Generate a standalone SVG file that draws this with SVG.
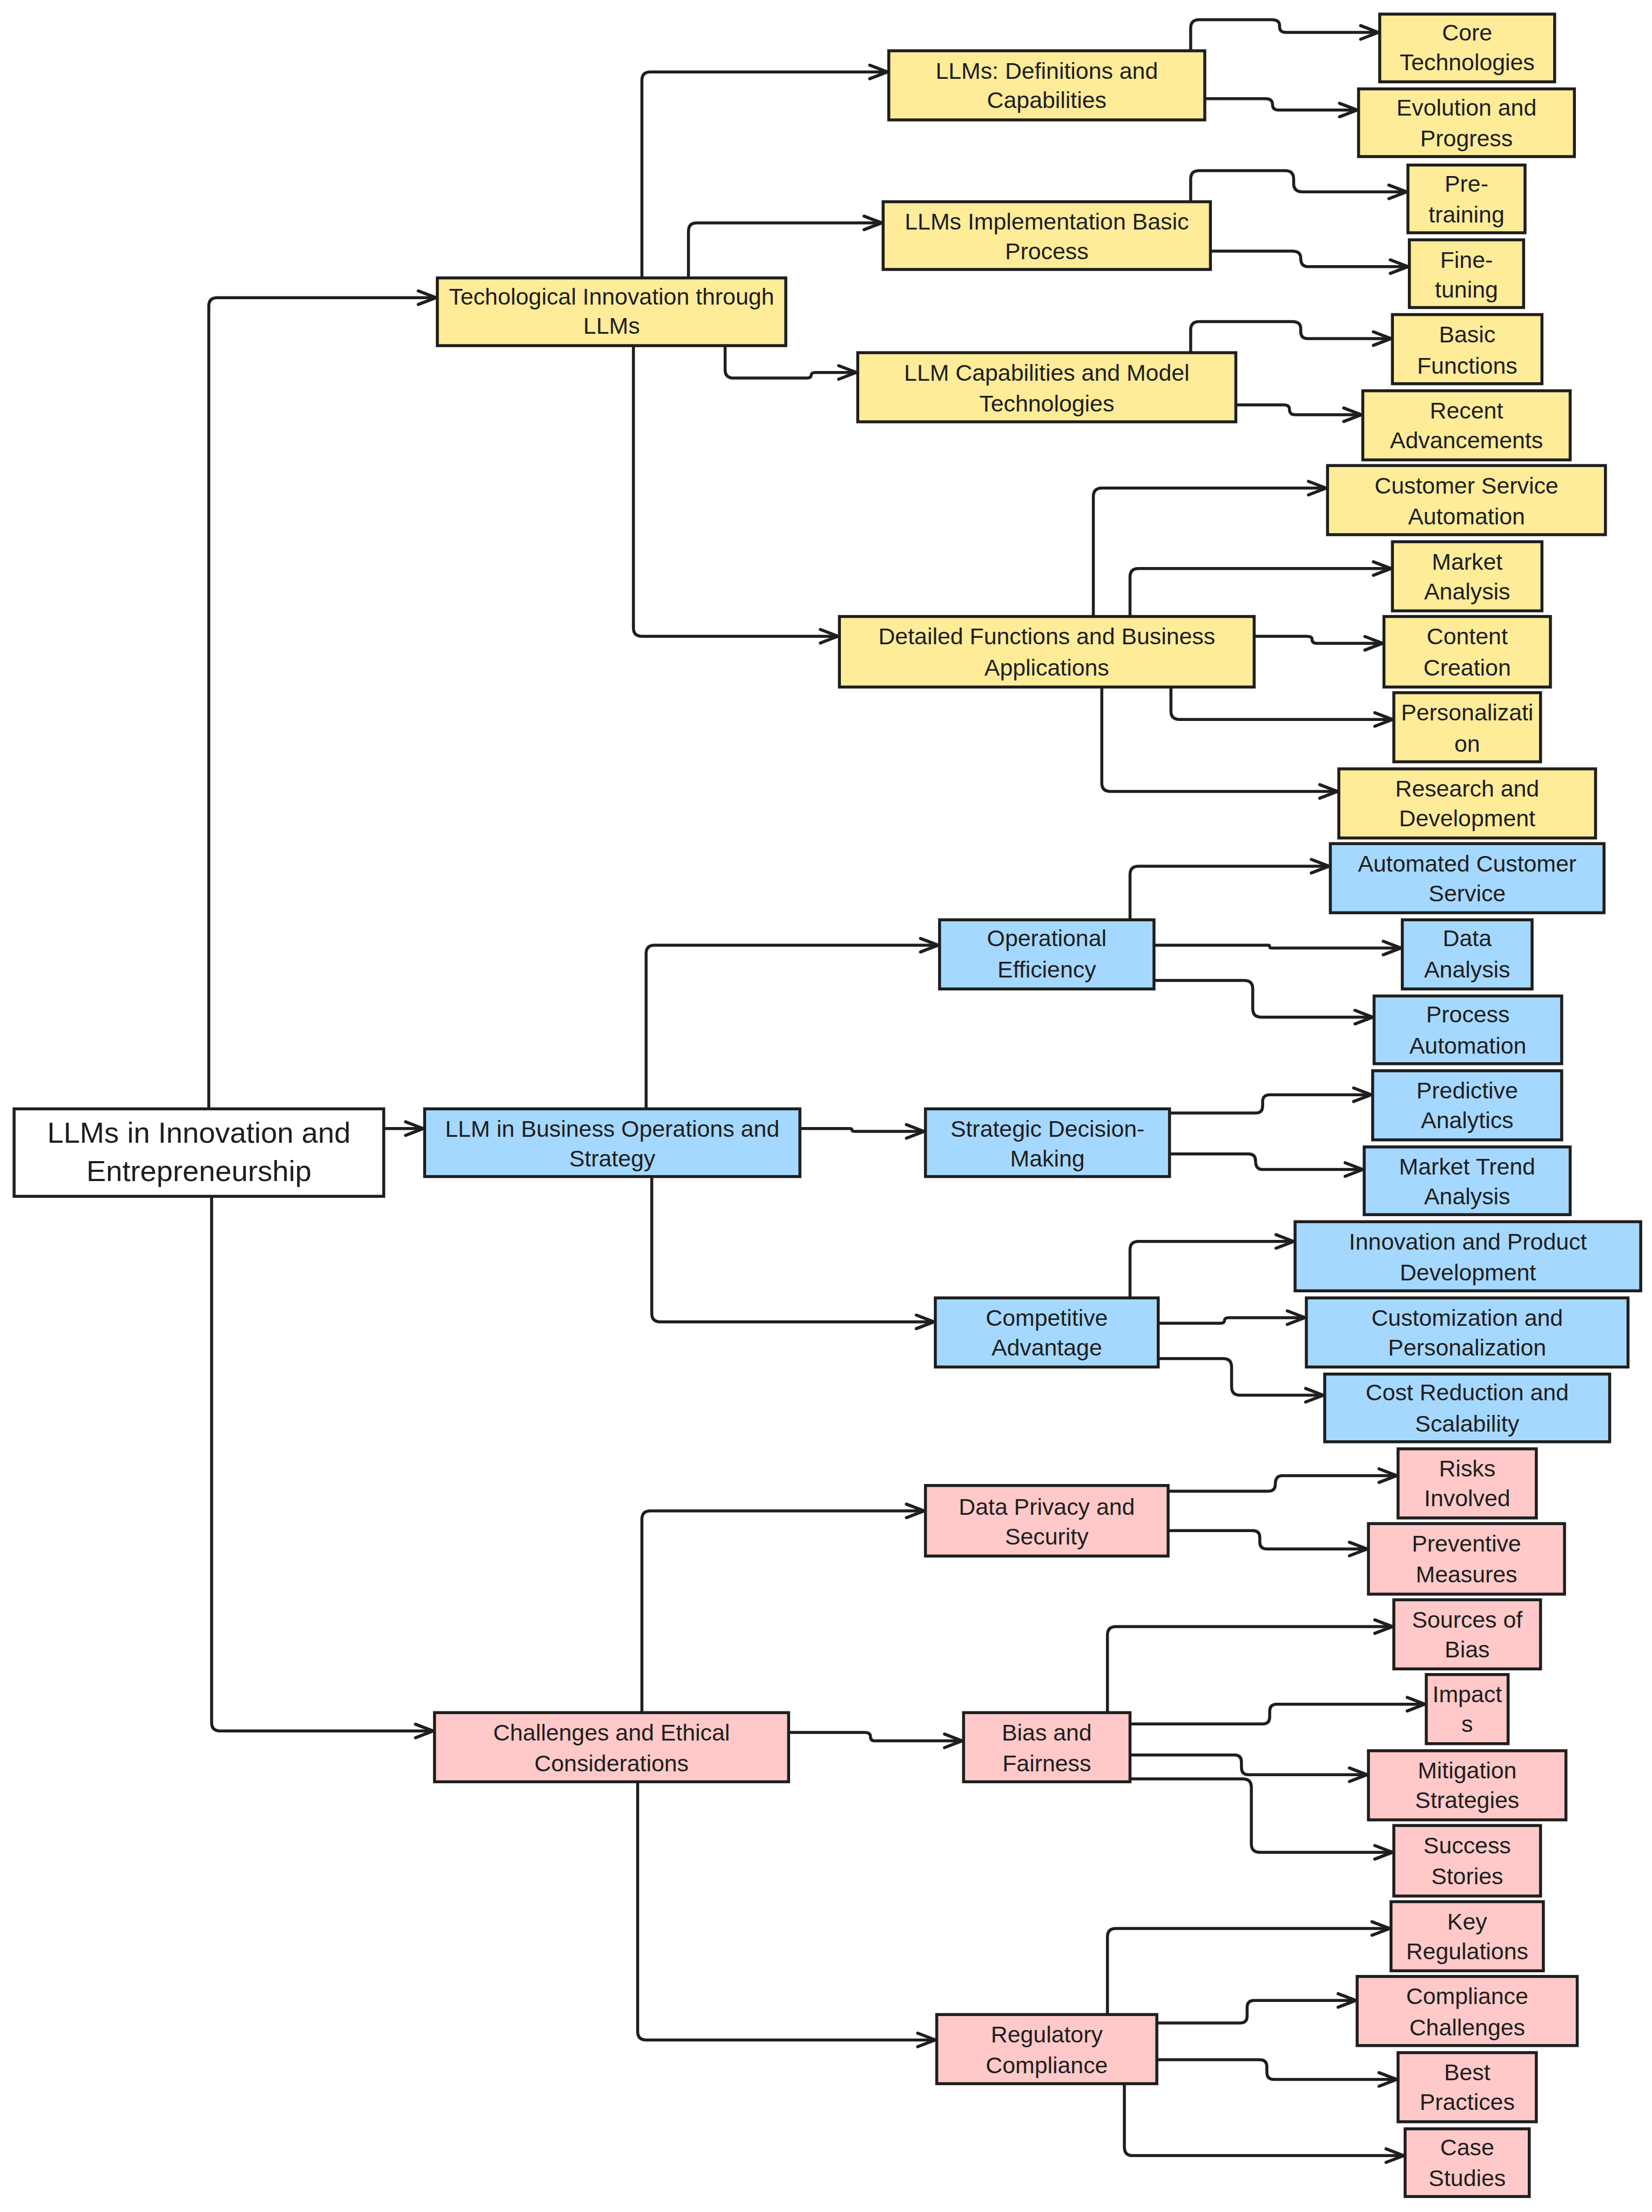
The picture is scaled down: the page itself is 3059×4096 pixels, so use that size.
<svg xmlns="http://www.w3.org/2000/svg" width="3059" height="4096" viewBox="0 0 3059 4096">
<defs>
<style>
.n rect{stroke:#1e1e1e;stroke-width:2.1}
.y rect{fill:#ffec99}
.b rect{fill:#a5d8ff}
.p rect{fill:#ffc9c9}
.r rect{fill:#ffffff;stroke-width:2.1}
text{font-family:"Liberation Sans",Arial,sans-serif;font-size:16.4px;fill:#1e1e1e;text-anchor:middle;dominant-baseline:central}
.r text{font-size:20.8px}
#edges path{fill:none;stroke:#1e1e1e;stroke-width:2.1;stroke-linecap:round;stroke-linejoin:round;marker-end:url(#ah)}
</style>
<marker id="ah" viewBox="0 0 16 12" refX="14.5" refY="6" markerWidth="16" markerHeight="12" markerUnits="userSpaceOnUse" orient="auto">
<path d="M2,1.2 L14.5,6 L2,10.8" fill="none" stroke="#1e1e1e" stroke-width="2.2" stroke-linecap="round" stroke-linejoin="round"/>
</marker>
</defs>
<rect width="3059" height="4096" fill="#ffffff"/>
<g transform="scale(2.6123)">
<g id="edges">
<path d="M148 785 L148 217 Q148 211 154 211 L309 211"/>
<path d="M273 800 L300 800"/>
<path d="M150 849 L150 1221 Q150 1227 156 1227 L307 1227"/>
<path d="M455 196 L455 57 Q455 51 461 51 L629 51"/>
<path d="M488 196 L488 164 Q488 158 494 158 L625 158"/>
<path d="M514 246 L514 262 Q514 268 520 268 L572 268 Q575 268 575 266 Q575 264 578 264 L607 264"/>
<path d="M449 246 L449 445 Q449 451 455 451 L594 451"/>
<path d="M844 35 L844 20 Q844 14 850 14 L901 14 Q907 14 907 18 L907 19 Q907 23 912 23 L977 23"/>
<path d="M855 70 L897 70 Q902 70 902 74 Q902 78 906 78 L962 78"/>
<path d="M844 142 L844 127 Q844 121 850 121 L911 121 Q917 121 917 127 L917 130 Q917 136 923 136 L997 136"/>
<path d="M859 178 L916 178 Q922 178 922 183 Q922 189 927 189 L998 189"/>
<path d="M844 249 L844 234 Q844 228 850 228 L916 228 Q922 228 922 233 L922 235 Q922 240 927 240 L986 240"/>
<path d="M877 287 L910 287 Q914 287 914 290 Q914 294 918 294 L965 294"/>
<path d="M775 436 L775 352 Q775 346 781 346 L940 346"/>
<path d="M801 436 L801 409 Q801 403 807 403 L986 403"/>
<path d="M890 451 L926 451 Q930 451 930 453 Q930 456 933 456 L980 456"/>
<path d="M830 488 L830 504 Q830 510 836 510 L987 510"/>
<path d="M781 488 L781 555 Q781 561 787 561 L948 561"/>
<path d="M458 785 L458 676 Q458 670 464 670 L665 670"/>
<path d="M568 800 L602 800 Q604 800 604 801 Q604 802 606 802 L655 802"/>
<path d="M462 835 L462 931 Q462 937 468 937 L662 937"/>
<path d="M801 651 L801 620 Q801 614 807 614 L942 614"/>
<path d="M819 670 L899 670 Q900 670 900 671 Q900 672 901 672 L993 672"/>
<path d="M819 695 L882 695 Q888 695 888 701 L888 715 Q888 721 894 721 L973 721"/>
<path d="M830 789 L890 789 Q895 789 895 784 L895 781 Q895 776 900 776 L972 776"/>
<path d="M830 818 L885 818 Q890 818 890 823 Q890 829 895 829 L966 829"/>
<path d="M801 919 L801 886 Q801 880 807 880 L917 880"/>
<path d="M822 938 L865 938 Q868 938 868 936 Q868 934 871 934 L925 934"/>
<path d="M822 963 L867 963 Q873 963 873 969 L873 983 Q873 989 879 989 L938 989"/>
<path d="M455 1213 L455 1077 Q455 1071 461 1071 L655 1071"/>
<path d="M560 1228 L613 1228 Q617 1228 617 1231 Q617 1234 620 1234 L682 1234"/>
<path d="M452 1264 L452 1440 Q452 1446 458 1446 L663 1446"/>
<path d="M829 1057 L899 1057 Q904 1057 904 1052 Q904 1046 909 1046 L990 1046"/>
<path d="M829 1085 L888 1085 Q893 1085 893 1090 L893 1093 Q893 1098 898 1098 L969 1098"/>
<path d="M785 1213 L785 1159 Q785 1153 791 1153 L987 1153"/>
<path d="M802 1222 L895 1222 Q900 1222 900 1217 L900 1213 Q900 1208 905 1208 L1010 1208"/>
<path d="M802 1244 L875 1244 Q880 1244 880 1249 L880 1253 Q880 1258 885 1258 L969 1258"/>
<path d="M802 1261 L881 1261 Q887 1261 887 1267 L887 1307 Q887 1313 893 1313 L987 1313"/>
<path d="M785 1427 L785 1373 Q785 1367 791 1367 L985 1367"/>
<path d="M821 1434 L879 1434 Q884 1434 884 1429 L884 1423 Q884 1418 889 1418 L961 1418"/>
<path d="M821 1460 L893 1460 Q898 1460 898 1465 L898 1469 Q898 1474 903 1474 L990 1474"/>
<path d="M797 1478 L797 1522 Q797 1528 803 1528 L995 1528"/>
</g>
<g id="root" class="n r"><rect x="10" y="786" width="262" height="62"/><text x="141" y="803">LLMs in Innovation and</text><text x="141" y="830">Entrepreneurship</text></g>
<g id="tech" class="n y"><rect x="310" y="197" width="247" height="48"/><text x="433.5" y="210">Techological Innovation through</text><text x="433.5" y="231">LLMs</text></g>
<g id="biz" class="n b"><rect x="301" y="786" width="266" height="48"/><text x="434" y="800">LLM in Business Operations and</text><text x="434" y="821">Strategy</text></g>
<g id="chal" class="n p"><rect x="308" y="1214" width="251" height="49"/><text x="433.5" y="1228">Challenges and Ethical</text><text x="433.5" y="1250">Considerations</text></g>
<g id="def" class="n y"><rect x="630" y="36" width="224" height="49"/><text x="742" y="50">LLMs: Definitions and</text><text x="742" y="71">Capabilities</text></g>
<g id="impl" class="n y"><rect x="626" y="143" width="232" height="48"/><text x="742" y="157">LLMs Implementation Basic</text><text x="742" y="178">Process</text></g>
<g id="capm" class="n y"><rect x="608" y="250" width="268" height="49"/><text x="742" y="264">LLM Capabilities and Model</text><text x="742" y="286">Technologies</text></g>
<g id="detail" class="n y"><rect x="595" y="437" width="294" height="50"/><text x="742" y="451">Detailed Functions and Business</text><text x="742" y="473">Applications</text></g>
<g id="core" class="n y"><rect x="978" y="10" width="124" height="48"/><text x="1040" y="23">Core</text><text x="1040" y="44">Technologies</text></g>
<g id="evo" class="n y"><rect x="963" y="63" width="153" height="48"/><text x="1039.5" y="76">Evolution and</text><text x="1039.5" y="98">Progress</text></g>
<g id="pre" class="n y"><rect x="998" y="117" width="83" height="48"/><text x="1039.5" y="130">Pre-</text><text x="1039.5" y="152">training</text></g>
<g id="fine" class="n y"><rect x="999" y="170" width="81" height="48"/><text x="1039.5" y="184">Fine-</text><text x="1039.5" y="205">tuning</text></g>
<g id="basic" class="n y"><rect x="987" y="223" width="106" height="49"/><text x="1040" y="237">Basic</text><text x="1040" y="259">Functions</text></g>
<g id="recent" class="n y"><rect x="966" y="277" width="147" height="49"/><text x="1039.5" y="291">Recent</text><text x="1039.5" y="312">Advancements</text></g>
<g id="csa" class="n y"><rect x="941" y="330" width="197" height="49"/><text x="1039.5" y="344">Customer Service</text><text x="1039.5" y="366">Automation</text></g>
<g id="market" class="n y"><rect x="987" y="384" width="106" height="49"/><text x="1040" y="398">Market</text><text x="1040" y="419">Analysis</text></g>
<g id="content" class="n y"><rect x="981" y="437" width="118" height="50"/><text x="1040" y="451">Content</text><text x="1040" y="473">Creation</text></g>
<g id="pers" class="n y"><rect x="988" y="491" width="104" height="49"/><text x="1040" y="505">Personalizati</text><text x="1040" y="527">on</text></g>
<g id="rnd" class="n y"><rect x="949" y="545" width="182" height="49"/><text x="1040" y="559">Research and</text><text x="1040" y="580">Development</text></g>
<g id="opeff" class="n b"><rect x="666" y="652" width="152" height="49"/><text x="742" y="665">Operational</text><text x="742" y="687">Efficiency</text></g>
<g id="strat" class="n b"><rect x="656" y="786" width="173" height="48"/><text x="742.5" y="800">Strategic Decision-</text><text x="742.5" y="821">Making</text></g>
<g id="comp" class="n b"><rect x="663" y="920" width="158" height="49"/><text x="742" y="934">Competitive</text><text x="742" y="955">Advantage</text></g>
<g id="acs" class="n b"><rect x="943" y="598" width="194" height="49"/><text x="1040" y="612">Automated Customer</text><text x="1040" y="633">Service</text></g>
<g id="data" class="n b"><rect x="994" y="652" width="92" height="49"/><text x="1040" y="665">Data</text><text x="1040" y="687">Analysis</text></g>
<g id="proc" class="n b"><rect x="974" y="706" width="133" height="48"/><text x="1040.5" y="719">Process</text><text x="1040.5" y="741">Automation</text></g>
<g id="pred" class="n b"><rect x="973" y="759" width="134" height="49"/><text x="1040" y="773">Predictive</text><text x="1040" y="794">Analytics</text></g>
<g id="mta" class="n b"><rect x="967" y="813" width="146" height="48"/><text x="1040" y="827">Market Trend</text><text x="1040" y="848">Analysis</text></g>
<g id="ipd" class="n b"><rect x="918" y="866" width="245" height="49"/><text x="1040.5" y="880">Innovation and Product</text><text x="1040.5" y="902">Development</text></g>
<g id="cust" class="n b"><rect x="926" y="920" width="228" height="49"/><text x="1040" y="934">Customization and</text><text x="1040" y="955">Personalization</text></g>
<g id="cost" class="n b"><rect x="939" y="974" width="202" height="48"/><text x="1040" y="987">Cost Reduction and</text><text x="1040" y="1009">Scalability</text></g>
<g id="priv" class="n p"><rect x="656" y="1053" width="172" height="50"/><text x="742" y="1068">Data Privacy and</text><text x="742" y="1089">Security</text></g>
<g id="bias" class="n p"><rect x="683" y="1214" width="118" height="49"/><text x="742" y="1228">Bias and</text><text x="742" y="1250">Fairness</text></g>
<g id="reg" class="n p"><rect x="664" y="1428" width="156" height="49"/><text x="742" y="1442">Regulatory</text><text x="742" y="1464">Compliance</text></g>
<g id="risks" class="n p"><rect x="991" y="1027" width="98" height="49"/><text x="1040" y="1041">Risks</text><text x="1040" y="1062">Involved</text></g>
<g id="prev" class="n p"><rect x="970" y="1080" width="139" height="50"/><text x="1039.5" y="1094">Preventive</text><text x="1039.5" y="1116">Measures</text></g>
<g id="src" class="n p"><rect x="988" y="1134" width="104" height="49"/><text x="1040" y="1148">Sources of</text><text x="1040" y="1169">Bias</text></g>
<g id="imp" class="n p"><rect x="1011" y="1187" width="58" height="49"/><text x="1040" y="1201">Impact</text><text x="1040" y="1222">s</text></g>
<g id="mit" class="n p"><rect x="970" y="1241" width="140" height="49"/><text x="1040" y="1255">Mitigation</text><text x="1040" y="1276">Strategies</text></g>
<g id="succ" class="n p"><rect x="988" y="1294" width="104" height="50"/><text x="1040" y="1308">Success</text><text x="1040" y="1330">Stories</text></g>
<g id="keyreg" class="n p"><rect x="986" y="1348" width="108" height="49"/><text x="1040" y="1362">Key</text><text x="1040" y="1383">Regulations</text></g>
<g id="compch" class="n p"><rect x="962" y="1401" width="156" height="49"/><text x="1040" y="1415">Compliance</text><text x="1040" y="1437">Challenges</text></g>
<g id="best" class="n p"><rect x="991" y="1455" width="98" height="49"/><text x="1040" y="1469">Best</text><text x="1040" y="1490">Practices</text></g>
<g id="case" class="n p"><rect x="996" y="1509" width="88" height="48"/><text x="1040" y="1522">Case</text><text x="1040" y="1544">Studies</text></g>
</g>
</svg>
